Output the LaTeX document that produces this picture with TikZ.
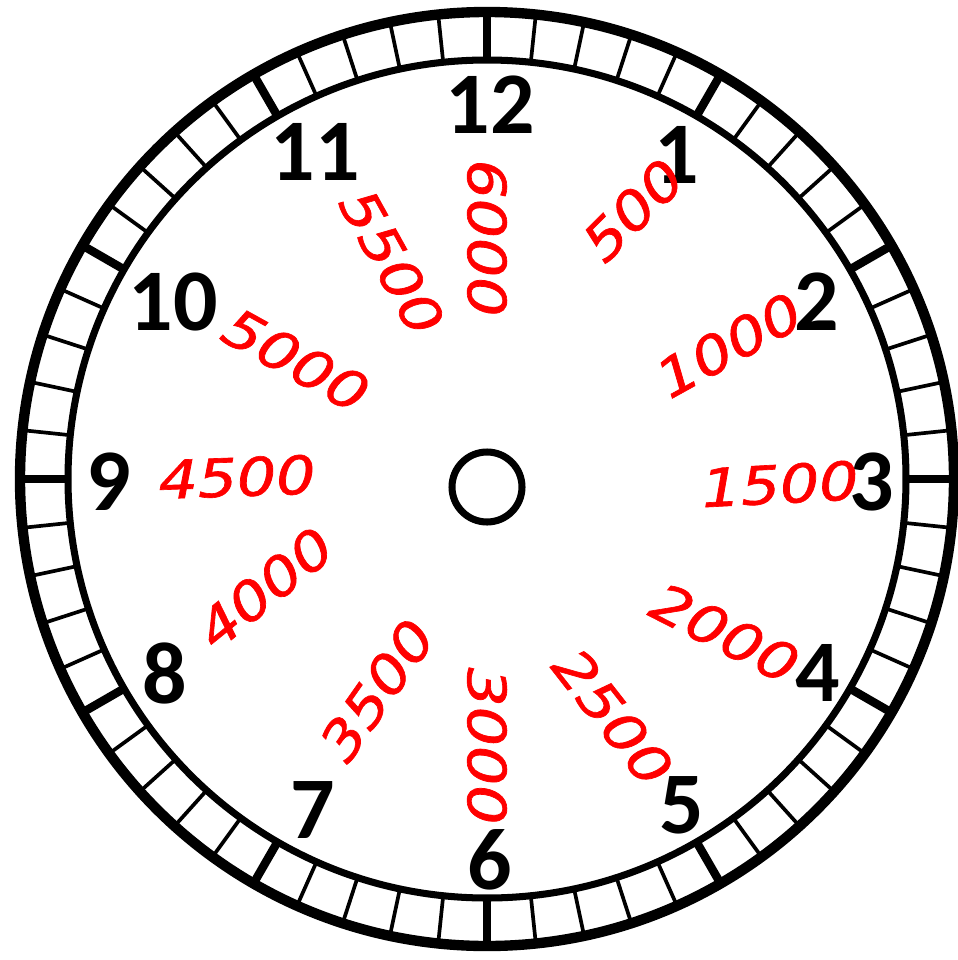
\documentclass[tikz,border=0pt]{standalone}
\usepackage{fontspec}
\usepackage{tikz}
\usetikzlibrary{positioning}
\newfontfamily\dialfont{Carlito}
\newfontfamily\handfont{DejaVu Sans Oblique}[FakeBold=1.2]

\begin{document}
\begin{tikzpicture}[
        x=0.02cm, y=-0.02cm,
        hournum/.style = {font=\dialfont\bfseries\fontsize{50pt}{50pt}\selectfont, inner sep=0pt},
        amount/.style = {font=\handfont\fontsize{30pt}{30pt}\selectfont, text=red, inner sep=0pt, xscale=1.17},
        rim/.style = {line width=5.9pt},
        innerrim/.style = {line width=4pt},
        minortick/.style = {line width=2.1pt},
        majortick/.style = {line width=4.8pt},
    ]
        \useasboundingbox (0,0) rectangle (957,960);
        \coordinate (ctr) at (487,479);
        \coordinate (hub) at (487,487);
        % dial ring with minute ticks
        \foreach \a in {0,6,...,354}
            \draw[minortick] ([shift={(\a:419)}]ctr) -- ([shift={(\a:467)}]ctr);
        \foreach \a in {0,30,...,330}
            \draw[majortick] ([shift={(\a:419)}]ctr) -- ([shift={(\a:467)}]ctr);
        \draw[rim] (ctr) circle[radius=467];
        \draw[innerrim] (ctr) circle[radius=419];
        \draw[innerrim] (hub) circle[radius=35];
        % hour numbers
        \foreach \n/\x/\y in {12/490/105, 1/677/155, 2/817/302, 3/872/482, 4/818/673, 5/682/805,
                              6/490/860, 7/313/810, 8/165/673, 9/109/482, 10/173/302, 11/315/152}
            \node[hournum] (h\n) at (\x,\y) {\n};
        % red amounts
        \foreach \v/\x/\y/\r in {500/633/210/45, 1000/729/345/29, 1500/780/484/3, 2000/725/633/-27,
                                 2500/613/717/-52, 3000/487/746/-90, 3500/377/690/55, 4000/265/588/39,
                                 4500/237/477/2, 5000/296/360/-29, 5500/392/262/-61, 6000/487/238/-90}
            \node[rotate=\r, amount] (a\v) at (\x,\y) {\v};
    \end{tikzpicture}
\end{document}
